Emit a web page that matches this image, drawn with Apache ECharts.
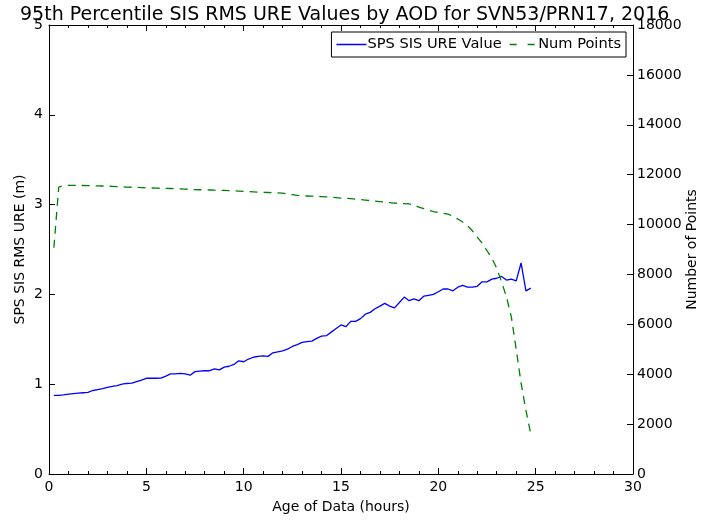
<!DOCTYPE html>
<html>
<head>
<meta charset="utf-8">
<script src="https://cdn.jsdelivr.net/npm/echarts@6/dist/echarts.min.js"></script>
<style>html,body{margin:0;padding:0;background:#fff}#c{width:707px;height:520px}</style>
</head>
<body>
<div id="c"></div>
<script>
const titleText = "95th Percentile SIS RMS URE Values by AOD for SVN53/PRN17, 2016";
const seriesNames = ["SPS SIS URE Value", "Num Points"];
const aodHours = [0.25,0.5,0.75,1,1.25,1.5,1.75,2,2.25,2.5,2.75,3,3.25,3.5,3.75,4,4.25,4.5,4.75,5,
  5.25,5.5,5.75,6,6.25,6.5,6.75,7,7.25,7.5,7.75,8,8.25,8.5,8.75,9,9.25,9.5,9.75,10,
  10.25,10.5,10.75,11,11.25,11.5,11.75,12,12.25,12.5,12.75,13,13.25,13.5,13.75,14,14.25,14.5,14.75,15,
  15.25,15.5,15.75,16,16.25,16.5,16.75,17,17.25,17.5,17.75,18,18.25,18.5,18.75,19,19.25,19.5,19.75,20,
  20.25,20.5,20.75,21,21.25,21.5,21.75,22,22.25,22.5,22.75,23,23.25,23.5,23.75,24,24.25,24.5,24.75];
const ureValues = [0.875,0.875,0.88,0.89,0.895,0.90,0.905,0.91,0.93,0.94,0.95,0.965,0.975,0.985,1.0,1.008,1.013,1.03,1.045,1.066,
  1.066,1.066,1.068,1.09,1.114,1.115,1.12,1.115,1.10,1.14,1.145,1.15,1.15,1.17,1.16,1.19,1.20,1.22,1.26,1.25,
  1.28,1.30,1.31,1.315,1.31,1.35,1.36,1.37,1.39,1.42,1.44,1.465,1.475,1.48,1.51,1.535,1.54,1.58,1.62,1.66,
  1.64,1.70,1.70,1.73,1.78,1.80,1.84,1.87,1.90,1.87,1.85,1.91,1.97,1.93,1.95,1.93,1.98,1.99,2.00,2.03,
  2.06,2.06,2.04,2.08,2.10,2.08,2.08,2.09,2.14,2.14,2.17,2.18,2.20,2.16,2.17,2.15,2.35,2.04,2.07];
const numPoints = [9070,11500,11560,11570,11570,11570,11565,11560,11555,11550,11545,11540,11530,11520,11510,11500,11495,11490,11480,11470,
  11465,11460,11455,11450,11445,11440,11430,11420,11410,11400,11395,11390,11385,11380,11375,11370,11360,11350,11340,11330,
  11320,11310,11300,11290,11285,11280,11270,11260,11230,11200,11170,11150,11145,11140,11130,11120,11110,11100,11080,11060,
  11050,11040,11020,11000,10980,10960,10940,10920,10900,10880,10860,10850,10840,10830,10780,10700,10640,10570,10520,10480,
  10450,10420,10330,10220,10100,9950,9750,9500,9250,8950,8650,8250,7700,7100,6300,5000,3650,2550,1600];

const font = "DejaVu Sans";
const chart = echarts.init(document.getElementById('c'), null, {renderer: 'canvas'});
const axisLine = {show: true, onZero: false, lineStyle: {color: '#000', width: 1}};
const tickStyle = {show: true, inside: true, length: 6, lineStyle: {color: '#000'}};
const minorStyle = {show: true, splitNumber: 5, length: 3, lineStyle: {color: '#000'}};
chart.setOption({
  animation: false,
  backgroundColor: '#fff',
  title: {text: titleText, left: 15, top: 1, textStyle: {fontFamily: font, fontSize: 19, fontWeight: 'normal', color: '#000'}},
  legend: {
    data: [
      {name: seriesNames[0], icon: 'path://M0,0H30V1.5H0Z'},
      {name: seriesNames[1], icon: 'path://M0,0H7V1.5H0Z M18,0H25V1.5H18Z'}
    ],
    right: 81, top: 32, orient: 'horizontal',
    borderColor: '#000', borderWidth: 1, borderRadius: 0, padding: [5, 5],
    itemWidth: 30, itemHeight: 1.5, itemGap: 8,
    textStyle: {fontFamily: font, fontSize: 14.6, color: '#000', padding: [0, 0, 0, -4]}
  },
  grid: {left: 49, right: 74, top: 25, bottom: 46, containLabel: false, outerBoundsMode: 'none'},
  xAxis: [{
    type: 'value', min: 0, max: 30, interval: 5, position: 'bottom',
    name: 'Age of Data (hours)', nameLocation: 'middle', nameGap: 26, nameMoveOverlap: false,
    nameTextStyle: {fontFamily: font, fontSize: 14, color: '#000'},
    axisLine: axisLine, axisTick: tickStyle, minorTick: minorStyle,
    axisLabel: {fontFamily: font, fontSize: 14, color: '#000', margin: 6},
    splitLine: {show: false}
  }, {
    type: 'value', min: 0, max: 30, interval: 5, position: 'top',
    axisLine: axisLine, axisTick: tickStyle, minorTick: minorStyle,
    axisLabel: {show: false}, splitLine: {show: false}
  }],
  yAxis: [{
    type: 'value', min: 0, max: 5, interval: 1, position: 'left',
    name: 'SPS SIS RMS URE (m)', nameLocation: 'middle', nameGap: 22, nameMoveOverlap: false,
    nameTextStyle: {fontFamily: font, fontSize: 14, color: '#000'},
    axisLine: axisLine, axisTick: tickStyle,
    axisLabel: {fontFamily: font, fontSize: 14, color: '#000', margin: 6},
    splitLine: {show: false}
  }, {
    type: 'value', min: 0, max: 18000, interval: 2000, position: 'right',
    name: 'Number of Points', nameLocation: 'middle', nameGap: 52, nameMoveOverlap: false,
    nameTextStyle: {fontFamily: font, fontSize: 14, color: '#000'},
    axisLine: axisLine, axisTick: tickStyle,
    axisLabel: {fontFamily: font, fontSize: 14, color: '#000', margin: 4, formatter: v => String(v)},
    splitLine: {show: false}
  }],
  series: [{
    name: seriesNames[0], type: 'line', xAxisIndex: 0, yAxisIndex: 0,
    data: aodHours.map((h, i) => [h, ureValues[i]]),
    showSymbol: false, symbol: 'none',
    lineStyle: {color: '#0000ff', width: 1.3}, itemStyle: {color: '#0000ff'}
  }, {
    name: seriesNames[1], type: 'line', xAxisIndex: 0, yAxisIndex: 1,
    data: aodHours.map((h, i) => [h, numPoints[i]]),
    showSymbol: false, symbol: 'none',
    lineStyle: {color: '#008000', width: 1.3, type: [8, 6]}, itemStyle: {color: '#008000'}
  }]
});
</script>
</body>
</html>
